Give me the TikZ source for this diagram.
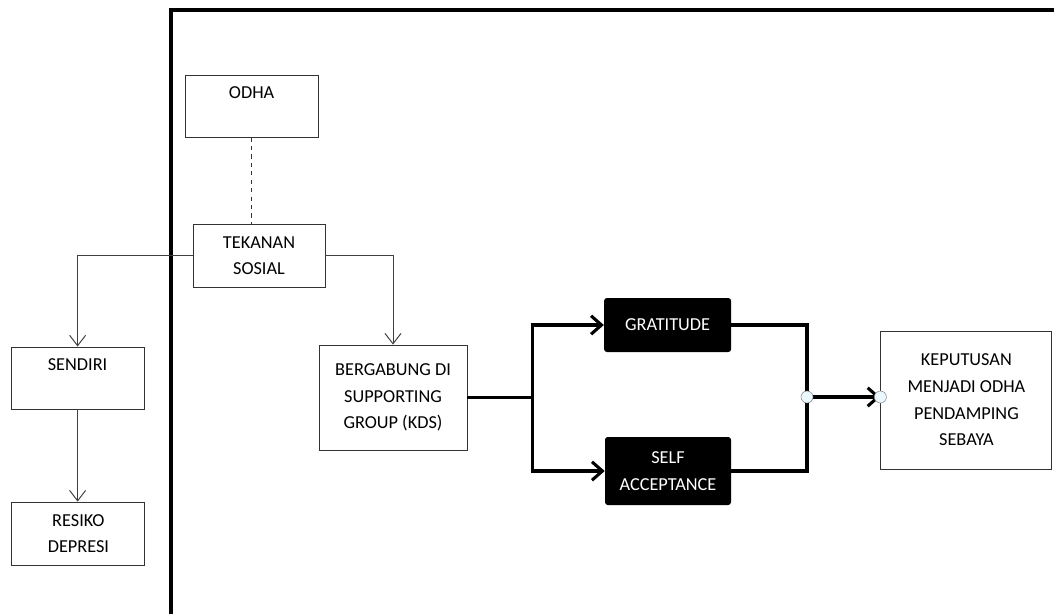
\documentclass[tikz,border=0pt]{standalone}
\usepackage{fontspec}
\setmainfont{Carlito}
\usetikzlibrary{arrows.meta,positioning}

\begin{document}
\begin{tikzpicture}[
  every node/.style={font=\fontsize{13}{19}\selectfont},
  box/.style={rectangle, draw=black!80, line width=0.7pt, align=center, inner sep=2pt},
  darkbox/.style={rectangle, rounded corners=2pt, fill=black, text=white,
                  align=center, inner sep=2pt},
  link/.style={-{Straight Barb[length=2.6mm, width=4mm]}, black!75, line width=0.7pt},
  heavy/.style={line width=2.2pt, line join=miter},
  strong/.style={heavy, -{Straight Barb[length=2.6mm, width=4.6mm]}},
  knot/.style={circle, draw=black!45, fill=cyan!8, inner sep=0pt, minimum size=3mm},
]
\useasboundingbox (0,0) rectangle (26.35,-15.35);

% ---------------------------------------------------------------- frame --
\draw[line width=2.2pt] (4.275,-15.35) -- (4.275,-0.25) -- (26.35,-0.25);

% ---------------------------------------------------------------- boxes --
\node[box, minimum width=3.325cm, minimum height=1.55cm] (odha) at (6.29,-2.65) {ODHA\\\mbox{}};
\node[box, minimum width=3.3cm, minimum height=1.575cm] (tekanan) at (6.475,-6.39) {TEKANAN\\SOSIAL};
\node[box, minimum width=3.325cm, minimum height=1.55cm] (sendiri) at (1.94,-9.45) {SENDIRI\\\mbox{}};
\node[box, minimum width=3.325cm, minimum height=1.575cm] (resiko) at (1.96,-13.34) {RESIKO\\DEPRESI};
\node[box, minimum width=3.7cm, minimum height=2.625cm] (bergabung) at (9.825,-9.94)
  {BERGABUNG DI\\SUPPORTING\\GROUP (KDS)};
\node[darkbox, minimum width=3.175cm, minimum height=1.35cm] (gratitude) at (16.69,-8.125) {GRATITUDE};
\node[darkbox, minimum width=3.15cm, minimum height=1.7cm] (selfacc) at (16.7,-11.775) {SELF\\ACCEPTANCE};
\node[box, minimum width=4.275cm, minimum height=3.45cm] (keputusan) at (24.16,-10.0)
  {KEPUTUSAN\\MENJADI ODHA\\PENDAMPING\\SEBAYA};

% ----------------------------------------------------------- thin links --
\draw[dashed, black!80, line width=0.7pt] (odha.south) -- (odha.south |- tekanan.north);
\draw[link] (tekanan.west) -| (sendiri.north);
\draw[link] (tekanan.east) -| (bergabung.north);
\draw[link] (sendiri.south) -- (sendiri.south |- resiko.north);

% ---------------------------------------------------------- heavy links --
\coordinate[right=1.625cm of bergabung.east] (split);
\coordinate (merge) at (20.175,-9.925);
\coordinate (entry) at (keputusan.west |- merge);
\draw[heavy] (bergabung.east) -- (split);
\draw[strong] (split) |- (gratitude.west);
\draw[strong] (split) |- (selfacc.west);
\draw[heavy] (gratitude.east) -| (merge) |- (selfacc.east);
\draw[strong] (merge) -- (entry);
\node[knot] (k1) at (merge) {};
\node[knot] (k2) at (entry) {};

\end{tikzpicture}
\end{document}
